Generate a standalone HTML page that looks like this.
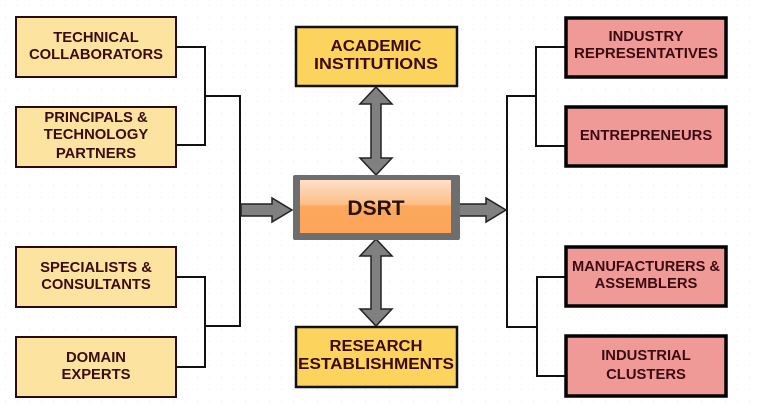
<!DOCTYPE html>
<html><head><meta charset="utf-8"><style>
html,body{margin:0;padding:0;background:#fff;}
svg{display:block;}
text{font-family:"Liberation Sans",Arial,sans-serif;font-weight:bold;font-size:14.8px;fill:#3a0b12;text-anchor:middle;}
text.c{font-size:16px;}
</style></head><body>
<svg width="758" height="410" viewBox="0 0 758 410" xmlns="http://www.w3.org/2000/svg">
<defs>
<pattern id="dots" width="12" height="12" patternUnits="userSpaceOnUse"><rect x="5" y="5" width="1" height="1" fill="#e4e4e4"/></pattern>
<linearGradient id="og" x1="0" y1="0" x2="0" y2="1"><stop offset="0" stop-color="#fde0c8"/><stop offset="0.45" stop-color="#fcc08a"/><stop offset="0.5" stop-color="#fba85e"/><stop offset="1" stop-color="#fca55a"/></linearGradient>
</defs>
<rect width="758" height="410" fill="url(#dots)"/>
<g fill="none" stroke="#111" stroke-width="2">
<polyline points="176,47 205,47 205,145 176,145"/>
<polyline points="205,96 240,96 240,326 205,326"/>
<polyline points="176,277 205,277 205,367 176,367"/>
<polyline points="566,47 536,47 536,146 566,146"/>
<polyline points="536,96 507,96 507,327 537,327"/>
<polyline points="566,277 537,277 537,376 566,376"/>
</g>
<g fill="#fde3a0" stroke="#2a0a10" stroke-width="2">
<rect x="16" y="17" width="160" height="60"/>
<rect x="16" y="107" width="160" height="60"/>
<rect x="16" y="247" width="160" height="60"/>
<rect x="16" y="337" width="160" height="60"/>
</g>
<text x="96" y="42">TECHNICAL</text><text x="96" y="59" textLength="134" lengthAdjust="spacingAndGlyphs">COLLABORATORS</text>
<text x="96" y="122">PRINCIPALS &amp;</text><text x="96" y="139">TECHNOLOGY</text><text x="96" y="158">PARTNERS</text>
<text x="96" y="272">SPECIALISTS &amp;</text><text x="96" y="289">CONSULTANTS</text>
<text x="96" y="362">DOMAIN</text><text x="96" y="379">EXPERTS</text>
<g fill="#f09a98" stroke="#000" stroke-width="3.5">
<rect x="566" y="18" width="160" height="59"/>
<rect x="566" y="107" width="160" height="59"/>
<rect x="566" y="247" width="160" height="59"/>
<rect x="566" y="336" width="160" height="60"/>
</g>
<text x="646" y="41">INDUSTRY</text><text x="646" y="58" textLength="144" lengthAdjust="spacingAndGlyphs">REPRESENTATIVES</text>
<text x="646" y="140">ENTREPRENEURS</text>
<text x="646" y="271" textLength="148" lengthAdjust="spacingAndGlyphs">MANUFACTURERS &amp;</text><text x="646" y="288">ASSEMBLERS</text>
<text x="646" y="360">INDUSTRIAL</text><text x="646" y="379">CLUSTERS</text>
<g fill="#fcd35c" stroke="#111" stroke-width="2.5">
<rect x="296" y="27" width="161" height="59"/>
<rect x="296" y="327" width="161" height="60"/>
</g>
<text class="c" x="376" y="51" textLength="91" lengthAdjust="spacingAndGlyphs">ACADEMIC</text><text class="c" x="376" y="69" textLength="124" lengthAdjust="spacingAndGlyphs">INSTITUTIONS</text>
<text class="c" x="376" y="351" textLength="93" lengthAdjust="spacingAndGlyphs">RESEARCH</text><text class="c" x="376" y="369" textLength="156" lengthAdjust="spacingAndGlyphs">ESTABLISHMENTS</text>
<g fill="#808080" stroke="#222" stroke-width="1.5">
<polygon points="376,87 392,104 381,104 381,158 392,158 376,175 360,158 371,158 371,104 360,104"/>
<polygon points="376,239 392,256 381,256 381,309 392,309 376,326 360,309 371,309 371,256 360,256"/>
<polygon points="241,204 272,204 272,198 292,210 272,222 272,216 241,216"/>
<polygon points="456,204 486,204 486,198 506,210 486,222 486,216 456,216"/>
</g>
<rect x="293" y="175" width="167" height="65" fill="#6e6e6e" rx="2"/>
<rect x="300" y="180" width="151" height="53" fill="url(#og)"/>
<text x="376" y="215" style="font-size:21px;fill:#2a120c">DSRT</text>
</svg>
</body></html>
